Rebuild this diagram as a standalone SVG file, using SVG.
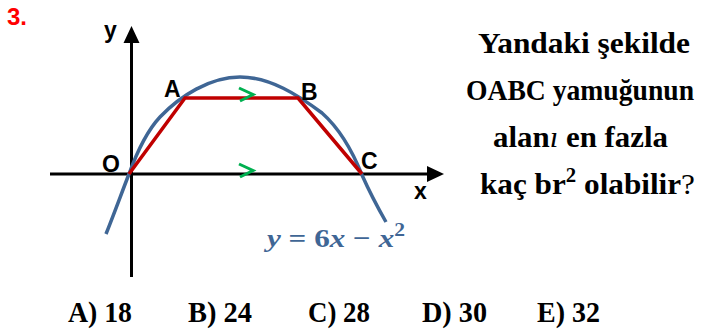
<svg xmlns="http://www.w3.org/2000/svg" width="704" height="330" viewBox="0 0 704 330">
<style>
.lbl{font-family:"Liberation Sans",Arial,sans-serif;font-weight:bold;font-size:23px;fill:#000}
.q{font-family:"Liberation Serif","Times New Roman",serif;font-weight:bold;font-size:30px;fill:#000}
.ans{font-family:"Liberation Serif","Times New Roman",serif;font-weight:bold;font-size:30px;fill:#000}
.axis{stroke:#000;stroke-width:3;fill:none}
.trap{stroke:#C00000;stroke-width:3.5;fill:none;stroke-linejoin:miter}
.curve{stroke:#3F6695;stroke-width:3.5;fill:none;stroke-linecap:butt}
.chev{stroke:#00B050;stroke-width:3;fill:none}
</style>
<rect width="704" height="330" fill="#fff"/>
<text x="7" y="25" font-family="Liberation Sans,Arial,sans-serif" font-weight="bold" font-size="24" fill="#FF0000">3.</text>
<g id="axes">
  <line class="axis" x1="131.5" y1="277" x2="131.5" y2="40"/>
  <polygon points="131.5,26 123.5,43 139.5,43" fill="#000"/>
  <line class="axis" x1="50" y1="174" x2="430" y2="174"/>
  <polygon points="444,174 427,166 427,182" fill="#000"/>
  <text class="lbl" x="104" y="38">y</text>
  <text class="lbl" x="414" y="199">x</text>
</g>
<g id="curve">
  <path class="curve" d="M106,234 C114,214 122,192 129,174 C137,152 146,132 160,117 C180,96 210,77 240,77 C270,77 298,95 322,113 C340,129 352,150 362,175 C370,193 378,208 386,222"/>
</g>
<g id="trapezoid">
  <polyline class="trap" points="129,174 185,98 298,98 362,174"/>
  <path class="chev" d="M239,88 L253,94.5 L240,101"/>
  <path class="chev" d="M239,164 L253,170.5 L240,177"/>
</g>
<g id="labels">
  <text class="lbl" x="102" y="172">O</text>
  <text class="lbl" x="164" y="97">A</text>
  <text class="lbl" x="301" y="100">B</text>
  <text class="lbl" x="361" y="169">C</text>
</g>
<g id="formula">
  <text x="267" y="247" font-family="Liberation Serif,Times New Roman,serif" font-weight="bold" font-style="italic" font-size="26" fill="#3F6695" textLength="138" lengthAdjust="spacingAndGlyphs">y <tspan font-style="normal">=</tspan> <tspan font-style="normal">6</tspan>x <tspan font-style="normal">−</tspan> x<tspan font-size="18" font-style="normal" dy="-11">2</tspan></text>
</g>
<g id="question">
  <text class="q" x="478" y="53" textLength="212" lengthAdjust="spacingAndGlyphs">Yandaki şekilde</text>
  <text class="q" x="466" y="100" font-size="27" textLength="228" lengthAdjust="spacingAndGlyphs">OABC yamuğunun</text>
  <text class="q" x="493" y="147" textLength="175" lengthAdjust="spacingAndGlyphs">alan<tspan font-style="italic" font-weight="normal">ı</tspan> en fazla</text>
  <text class="q" x="480" y="194" textLength="215" lengthAdjust="spacingAndGlyphs">kaç br<tspan font-size="20" dy="-12">2</tspan><tspan dy="12"> olabilir</tspan><tspan font-weight="normal">?</tspan></text>
</g>
<g id="answers">
  <text class="ans" x="68" y="322" textLength="64" lengthAdjust="spacingAndGlyphs">A) 18</text>
  <text class="ans" x="188" y="322" textLength="64" lengthAdjust="spacingAndGlyphs">B) 24</text>
  <text class="ans" x="308" y="322" textLength="62" lengthAdjust="spacingAndGlyphs">C) 28</text>
  <text class="ans" x="422" y="322" textLength="65" lengthAdjust="spacingAndGlyphs">D) 30</text>
  <text class="ans" x="537" y="322" textLength="63" lengthAdjust="spacingAndGlyphs">E) 32</text>
</g>
</svg>
